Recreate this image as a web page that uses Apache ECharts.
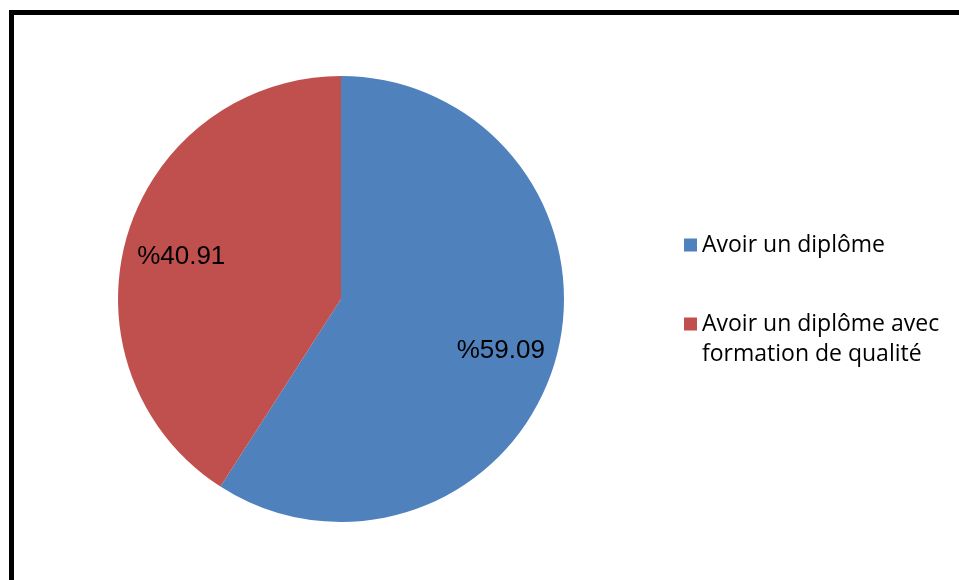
<!DOCTYPE html>
<html><head><meta charset="utf-8">
<script src="https://cdn.jsdelivr.net/npm/echarts@6/dist/echarts.min.js"></script>
<style>html,body{margin:0;padding:0;background:#fff}#c{width:959px;height:580px}</style>
</head><body><div id="c"></div>
<script>
const categories = ['Avoir un diplôme', 'Avoir un diplôme avec\nformation de qualité'];
const values = [59.09, 40.91];
const labelTexts = ['%59.09', '%40.91'];
const colors = ['#4F81BD', '#C0504D'];

const chart = echarts.init(document.getElementById('c'), null, {renderer: 'canvas'});
const data = categories.map((n, i) => ({name: n, value: values[i], itemStyle: {color: colors[i]}}));
const legendBase = {
  orient: 'vertical', left: 679,
  itemWidth: 13, itemHeight: 13, icon: 'rect',
  textStyle: {fontFamily: 'Open Sans', fontSize: 23, color: '#000', lineHeight: 30}
};
chart.setOption({
  animation: false,
  backgroundColor: '#fff',
  graphic: [{
    type: 'rect', shape: {x: 11.5, y: 12.5, width: 1200, height: 1200},
    style: {fill: 'none', stroke: '#000', lineWidth: 5}, silent: true
  }],
  legend: [
    Object.assign({}, legendBase, {top: 225, data: [categories[0]]}),
    Object.assign({}, legendBase, {
      top: 274, data: [categories[1]],
      formatter: function (name) { return '\n' + name; }
    })
  ],
  series: [{
    type: 'pie', center: [341, 299], radius: 223,
    startAngle: 90, clockwise: true,
    label: {show: false}, labelLine: {show: false},
    silent: true,
    data: data
  }, {
    type: 'pie', center: [341, 299], radius: [104, 223],
    startAngle: 90, clockwise: true, silent: true,
    itemStyle: {color: 'rgba(0,0,0,0)'},
    label: {show: true, position: 'inside', color: '#000',
      formatter: function (p) { return '{pad| }\n{t|' + labelTexts[p.dataIndex] + '}'; },
      rich: {
        pad: {fontSize: 4, lineHeight: 9},
        t: {fontFamily: 'Liberation Sans, Arial', fontSize: 26, lineHeight: 30, color: '#000'}
      }},
    labelLine: {show: false},
    data: categories.map((n, i) => ({name: n, value: values[i], itemStyle: {color: 'rgba(0,0,0,0)'}}))
  }]
});
</script></body></html>
